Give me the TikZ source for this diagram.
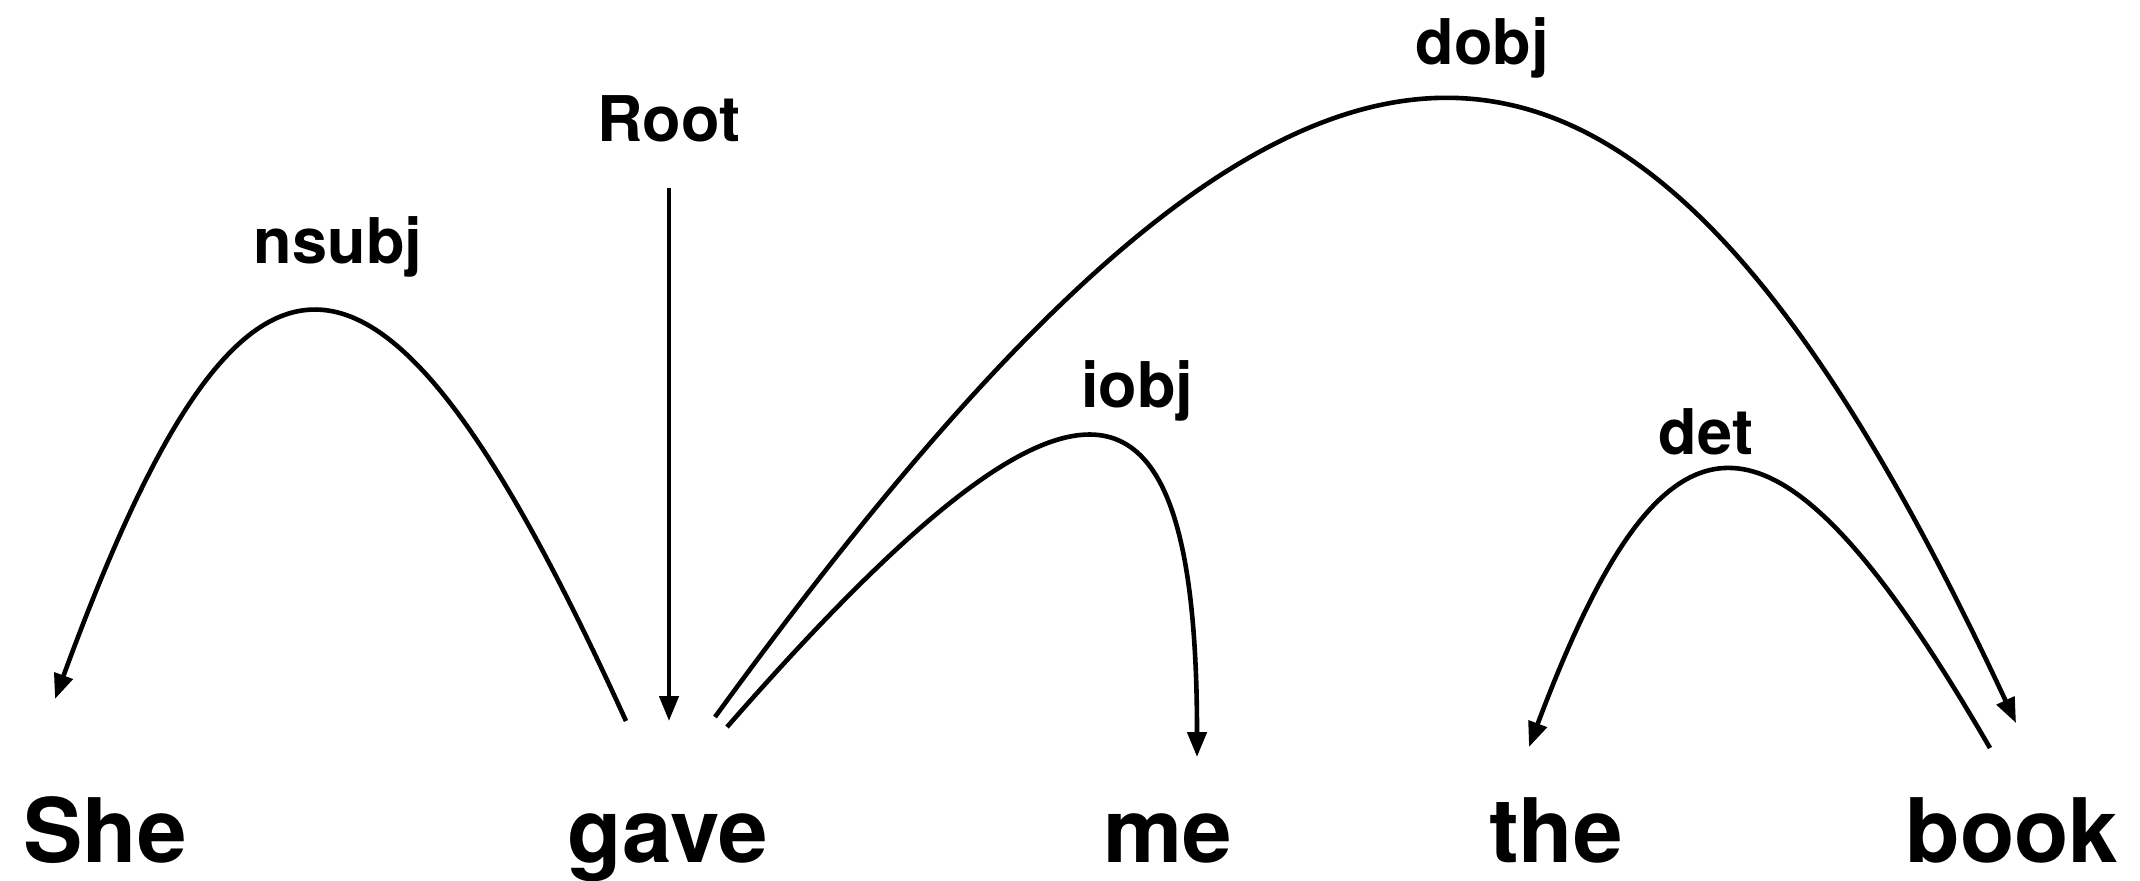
\documentclass[tikz,border=0pt]{standalone}
\usepackage{fontspec}
\setmainfont{TeX Gyre Heros}
\usetikzlibrary{arrows.meta}
\tikzset{
  word/.style={anchor=base, inner sep=0pt, font=\fontsize{44.5}{50}\selectfont\bfseries},
  rel/.style={anchor=base, inner sep=0pt, font=\fontsize{31.5}{36}\selectfont\bfseries},
  arc/.style={line width=2.3pt, -{Triangle[length=12.5pt,width=9.5pt]}},
}
\begin{document}
\begin{tikzpicture}[x=0.5pt,y=-0.5pt]
\useasboundingbox (0,0) rectangle (2140,880);
% words
\node[word] (she)  at (105,862)  {She};
\node[word] (gave) at (668,862)  {gave};
\node[word] (me)   at (1168,862) {me};
\node[word] (the)  at (1556,862) {the};
\node[word] (book) at (2012,862) {book};
% labels
\node[rel] (root)  at (669,141)  {Root};
\node[rel] (nsubj) at (338,263)  {nsubj};
\node[rel] (dobj)  at (1482,64)  {dobj};
\node[rel] (iobj)  at (1137,407) {iobj};
\node[rel] (det)   at (1706,454) {det};
% arc end points
\coordinate (rootTop)  at (669,188);
\coordinate (gaveIn)   at (669,721);
\coordinate (gaveL)    at (626,721);
\coordinate (sheIn)    at (55,699);
\coordinate (gaveR1)   at (715,717);
\coordinate (bookIn)   at (2016,723);
\coordinate (gaveR2)   at (727,727);
\coordinate (meIn)     at (1197,757);
\coordinate (bookOut)  at (1990,748);
\coordinate (theIn)    at (1529,747);
% arcs
\draw[arc] (rootTop) -- (gaveIn);
\draw[arc] (gaveL) .. controls (380,180) and (245,180) .. (sheIn);
\draw[arc] (gaveR1) .. controls (1315,-108) and (1630,-104) .. (bookIn);
\draw[arc] (gaveR2) .. controls (1070,335) and (1197,337) .. (meIn);
\draw[arc] (bookOut) .. controls (1775,378) and (1667,379) .. (theIn);
\end{tikzpicture}
\end{document}
